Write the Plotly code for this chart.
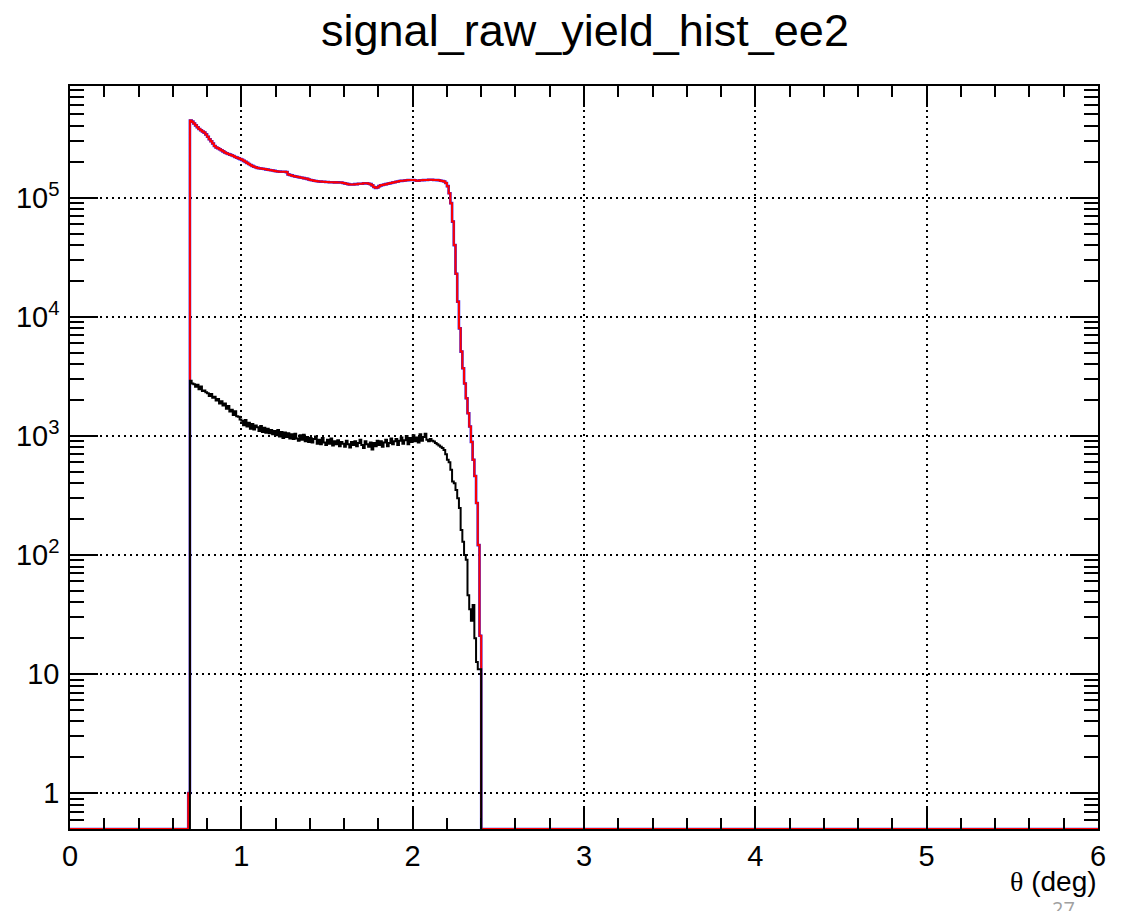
import numpy as np
import plotly.graph_objects as go

# ---------------- data ----------------
BIN_WIDTH = 0.01
X_MIN, X_MAX = 0.0, 6.0

# red / blue histogram: bins starting at 0.69 (0.69 ... 2.39)
red_start = 0.69
red_vals = [
    1,
    4.45e5, 4.35e5, 4.2e5, 4.05e5, 3.9e5, 3.78e5, 3.68e5, 3.6e5, 3.52e5, 3.4e5,
    3.25e5, 3.1e5, 2.98e5, 2.85e5, 2.72e5, 2.64e5, 2.6e5, 2.55e5, 2.5e5, 2.45e5,
    2.4e5, 2.36e5, 2.33e5, 2.3e5, 2.27e5, 2.24e5, 2.2e5, 2.17e5, 2.14e5, 2.11e5,
    2.08e5, 2.04e5, 2.0e5, 1.96e5, 1.92e5, 1.88e5, 1.85e5, 1.82e5, 1.8e5, 1.78e5,
    1.77e5, 1.76e5, 1.75e5, 1.74e5, 1.73e5, 1.72e5, 1.71e5, 1.7e5, 1.69e5, 1.68e5,
    1.67e5, 1.66e5, 1.655e5, 1.65e5, 1.65e5, 1.65e5, 1.64e5, 1.57e5, 1.55e5, 1.54e5,
    1.52e5, 1.51e5, 1.5e5, 1.49e5, 1.48e5, 1.47e5, 1.46e5, 1.45e5, 1.44e5, 1.42e5,
    1.41e5, 1.4e5, 1.39e5, 1.38e5, 1.375e5, 1.37e5, 1.365e5, 1.36e5, 1.36e5, 1.355e5,
    1.355e5, 1.35e5, 1.35e5, 1.35e5, 1.345e5, 1.35e5, 1.345e5, 1.34e5, 1.34e5, 1.33e5,
    1.32e5, 1.31e5, 1.3e5, 1.29e5, 1.29e5, 1.29e5, 1.3e5, 1.3e5, 1.31e5, 1.31e5,
    1.31e5, 1.32e5, 1.32e5, 1.32e5, 1.31e5, 1.3e5, 1.27e5, 1.23e5, 1.21e5, 1.22e5,
    1.25e5, 1.27e5, 1.28e5, 1.29e5, 1.3e5, 1.31e5, 1.32e5, 1.33e5, 1.34e5, 1.35e5,
    1.36e5, 1.37e5, 1.38e5, 1.385e5, 1.39e5, 1.395e5, 1.4e5, 1.405e5, 1.41e5, 1.41e5,
    1.41e5, 1.4e5, 1.39e5, 1.39e5, 1.4e5, 1.4e5, 1.405e5, 1.41e5, 1.41e5, 1.415e5,
    1.415e5, 1.415e5, 1.41e5, 1.41e5, 1.405e5, 1.4e5, 1.39e5, 1.38e5, 1.37e5, 1.33e5,
    1.25e5, 1.09e5, 9.0e4, 6.3e4, 4.0e4, 2.3e4, 1.34e4, 8.0e3, 5.1e3, 3.7e3,
    2.75e3, 2.07e3, 1.55e3, 1.2e3, 890, 630, 460, 273, 121, 21,
]

# black histogram: bins starting at 0.70 (0.70 ... 2.39)
black_start = 0.70
black_vals = [
    2900, 2750, 2720, 2580, 2690, 2460, 2600, 2380, 2400, 2330,
    2280, 2160, 2250, 2090, 2130, 1980, 2040, 1870, 1950, 1800,
    1870, 1690, 1780, 1600, 1660, 1500, 1610, 1460, 1450, 1370,
    1340, 1230, 1360, 1200, 1290, 1150, 1260, 1130, 1220, 1180,
    1100, 1210, 1080, 1170, 1060, 1150, 1050, 1120, 1030, 1100,
    1010, 1120, 990, 1080, 960, 1070, 980, 1050, 950, 1030,
    940, 1040, 950, 910, 1010, 930, 1020, 900, 980, 890,
    960, 880, 940, 990, 860, 930, 850, 960, 880, 840,
    930, 860, 950, 830, 900, 850, 920, 820, 890, 860,
    810, 910, 850, 800, 890, 840, 900, 820, 870, 930,
    840, 790, 900, 850, 810, 880, 770, 870, 820, 910,
    840, 900, 810, 880, 930, 820, 870, 950, 850, 900,
    940, 840, 910, 970, 860, 920, 1000, 850, 960, 890,
    1010, 900, 970, 880, 1030, 910, 980, 1040, 930, 900,
    940, 910, 895, 870, 850, 830, 810, 790, 760, 700,
    630, 600, 520, 413, 400, 352, 300, 248, 162, 129,
    100, 91, 46, 35, 28, 38, 20, 12.6, 11, 11,
]

Y_MIN, Y_MAX = 0.5, 8.67e5
y_major_vals = [1, 10, 100, 1000, 1e4, 1e5]
y_major_text = ["1", "10", "10<sup>2</sup>", "10<sup>3</sup>", "10<sup>4</sup>", "10<sup>5</sup>"]
x_major_vals = [0, 1, 2, 3, 4, 5, 6]

TITLE = "signal_raw_yield_hist_ee2"

# ---------------- build step curves ----------------
nbins = int(round((X_MAX - X_MIN) / BIN_WIDTH))
edges = np.round(np.linspace(X_MIN, X_MAX, nbins + 1), 6)


def full_hist(start, vals):
    arr = np.zeros(nbins)
    i0 = int(round((start - X_MIN) / BIN_WIDTH))
    arr[i0:i0 + len(vals)] = vals
    return arr


def step_full(arr):
    y = np.maximum(arr, Y_MIN)
    return list(edges), list(y) + [y[-1]]


def step_range(start, vals):
    i0 = int(round((start - X_MIN) / BIN_WIDTH))
    xs = [edges[i0]] + list(edges[i0:i0 + len(vals) + 1])
    ys = [Y_MIN] + list(vals) + [Y_MIN]
    return xs, ys


red_full = full_hist(red_start, red_vals)
rx, ry = step_full(red_full)
bx, by = step_range(black_start, black_vals)

fig = go.Figure()
fig.add_trace(go.Scatter(x=rx, y=ry, mode="lines", line=dict(color="#2020ff", width=2.6, shape="hv"),
                         hoverinfo="skip", showlegend=False))
fig.add_trace(go.Scatter(x=rx, y=ry, mode="lines", line=dict(color="#ff0000", width=2, shape="hv"),
                         showlegend=False))
fig.add_trace(go.Scatter(x=bx, y=by, mode="lines", line=dict(color="#000000", width=2, shape="hv"),
                         showlegend=False))

# minor ticks
y_minor = []
for dec in [0.1, 1, 10, 100, 1000, 1e4, 1e5]:
    for m in range(2, 10):
        v = m * dec
        if Y_MIN <= v <= Y_MAX:
            y_minor.append(v)

FONT = "Liberation Sans, Arial, Helvetica, sans-serif"
W, H = 1121, 911
ML, MR, MT, MB = 70, 23, 86, 82

fig.update_layout(
    width=W, height=H,
    margin=dict(l=ML, r=MR, t=MT, b=MB),
    paper_bgcolor="white", plot_bgcolor="white",
    font=dict(family=FONT, color="black"),
    title=dict(text=TITLE, x=585 / W, xanchor="center", y=1 - 30 / H, yanchor="middle",
               yref="container", xref="container", font=dict(size=45, family=FONT, color="black")),
)

fig.update_xaxes(
    range=[X_MIN, X_MAX], showline=True, linecolor="black", linewidth=1.5, mirror="allticks",
    ticks="inside", ticklen=21, tickwidth=1.5, tickcolor="black",
    tickmode="array", tickvals=x_major_vals, ticktext=[str(v) for v in x_major_vals],
    tickfont=dict(size=29, family=FONT), ticklabelstandoff=0,
    showgrid=True, gridcolor="black", gridwidth=1.6, griddash="2px,4px",
    minor=dict(tickmode="linear", tick0=0, dtick=0.2, ticks="inside", ticklen=11,
               tickwidth=1.5, tickcolor="black", showgrid=False),
    zeroline=False, layer="above traces",
)
fig.update_yaxes(
    type="log", range=[np.log10(Y_MIN), np.log10(Y_MAX)],
    showline=True, linecolor="black", linewidth=1.5, mirror="allticks",
    ticks="inside", ticklen=28, tickwidth=1.5, tickcolor="black",
    tickmode="array", tickvals=y_major_vals, ticktext=y_major_text,
    tickfont=dict(size=29, family=FONT), ticklabelstandoff=3,
    showgrid=True, gridcolor="black", gridwidth=1.6, griddash="2px,4px",
    minor=dict(tickmode="array", tickvals=y_minor, ticks="inside", ticklen=14,
               tickwidth=1.5, tickcolor="black", showgrid=False),
    zeroline=False, layer="above traces",
)

ph = H - MT - MB


def py2paper(py):
    return (H - MB - py) / ph


def px2paper(px):
    return (px - ML) / (W - ML - MR)


fig.add_annotation(
    text="<span style=\"font-family:'Liberation Serif', 'DejaVu Serif', serif\">θ</span> (deg)",
    x=px2paper(1098), y=py2paper(881), xref="paper", yref="paper",
    xanchor="right", yanchor="middle", showarrow=False, borderpad=0,
    font=dict(size=28, family=FONT, color="black"),
)
fig.add_annotation(
    text="27", x=px2paper(1063), y=py2paper(894), xref="paper", yref="paper",
    xanchor="center", yanchor="top", showarrow=False, borderpad=0,
    font=dict(size=20, family="Open Sans, sans-serif", color="#a0a0a0"),
)

fig.write_html("out.html")
